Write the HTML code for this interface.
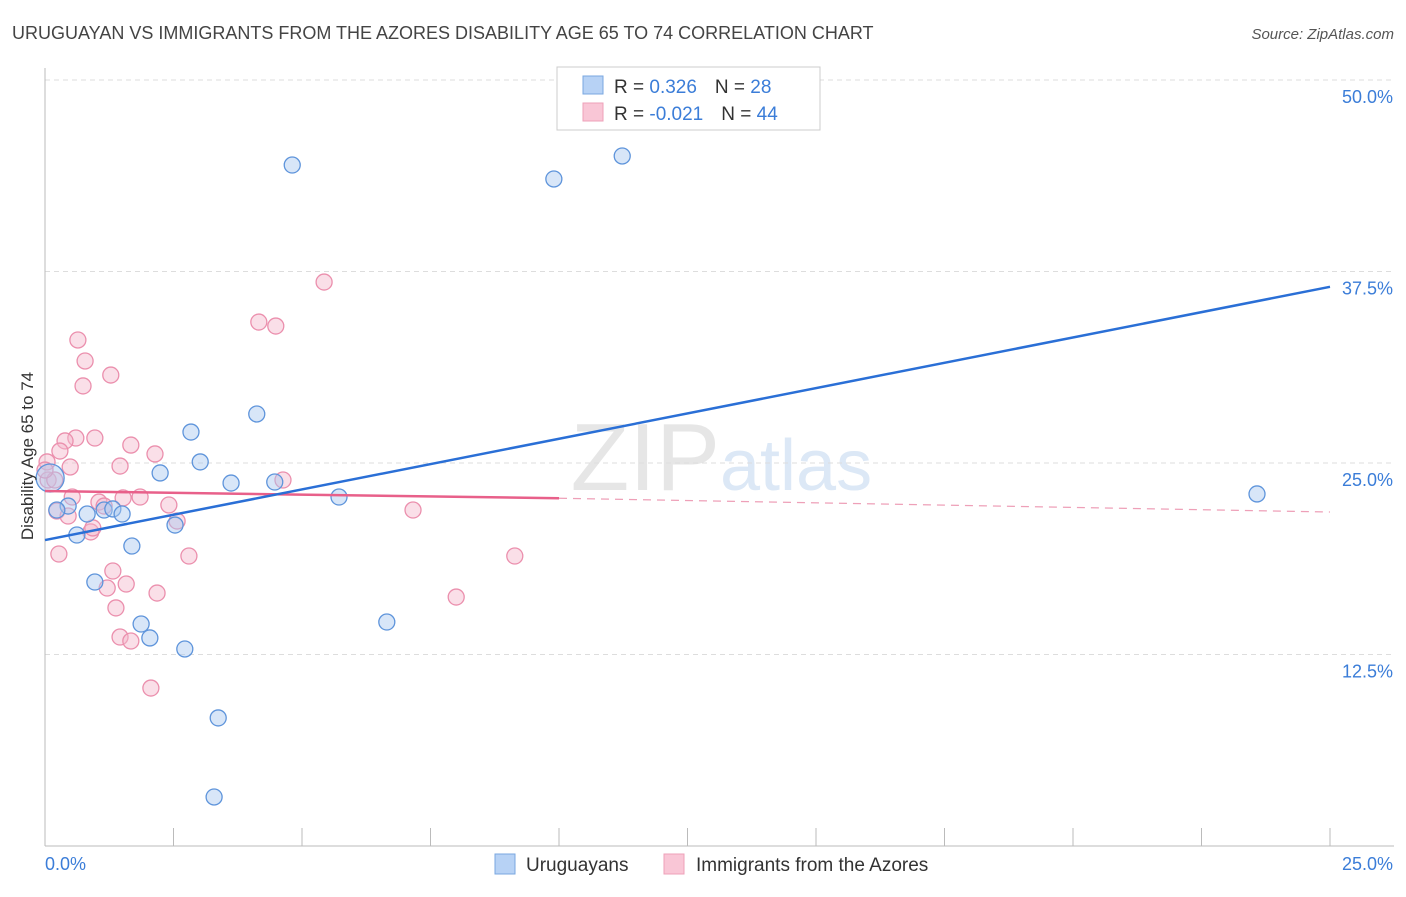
<!DOCTYPE html>
<html><head><meta charset="utf-8"><style>
body{margin:0;background:#fff;font-family:"Liberation Sans",sans-serif;}
svg text{font-family:"Liberation Sans",sans-serif;}
</style></head><body>
<svg id="chart" width="1406" height="892" xmlns="http://www.w3.org/2000/svg">
<text x="12" y="39" font-size="18" fill="#444">URUGUAYAN VS IMMIGRANTS FROM THE AZORES DISABILITY AGE 65 TO 74 CORRELATION CHART</text>
<text x="1394" y="39" font-size="15" fill="#555" text-anchor="end" font-style="italic">Source: ZipAtlas.com</text>
<text x="720" y="490" font-size="96" fill="#e6e6e6" text-anchor="end" font-family="Liberation Serif">ZIP</text>
<text x="720" y="490" font-size="72" fill="#dce8f6">atlas</text>
<g id="grid"></g>
<g id="axes"></g>
<g id="marks"></g>
<text transform="translate(33,456) rotate(-90)" font-size="17" fill="#333" text-anchor="middle">Disability Age 65 to 74</text>
<g>
<rect x="557" y="67" width="263" height="63" fill="#fff" stroke="#ccc"/>
<rect x="583" y="76" width="20" height="18" fill="#b7d2f5" stroke="#7aa7e0"/>
<text x="614" y="93" font-size="19" fill="#333">R = <tspan fill="#3b7dd8"> 0.326</tspan><tspan dx="18">N = </tspan><tspan fill="#3b7dd8">28</tspan></text>
<rect x="583" y="103" width="20" height="18" fill="#f9c6d6" stroke="#eea0b8"/>
<text x="614" y="120" font-size="19" fill="#333">R = <tspan fill="#3b7dd8">-0.021</tspan><tspan dx="18">N = </tspan><tspan fill="#3b7dd8">44</tspan></text>
</g>
<g>
<rect x="495" y="854" width="20" height="20" fill="#b7d2f5" stroke="#7aa7e0"/>
<text x="526" y="871" font-size="19" fill="#333">Uruguayans</text>
<rect x="664" y="854" width="20" height="20" fill="#f9c6d6" stroke="#eea0b8"/>
<text x="696" y="871" font-size="19" fill="#333">Immigrants from the Azores</text>
</g>
</svg>
<script>
const blueX=[4.81,9.90,11.23,4.12,2.84,2.24,3.02,3.62,4.47,5.72,0.45,0.82,1.15,1.32,1.50,2.53,0.62,1.69,0.97,1.87,2.04,2.72,6.65,3.37,3.29,23.58,0.23];
const blueY=[44.45,43.54,45.04,28.20,27.02,24.35,25.07,23.69,23.76,22.78,22.19,21.67,21.93,22.00,21.67,20.95,20.30,19.58,17.23,14.49,13.58,12.86,14.62,8.36,3.20,22.98,21.93];
const pinkX=[5.43,4.16,4.49,0.64,0.78,1.28,0.74,0.97,0.60,0.39,0.29,1.67,2.14,1.46,0.49,0.04,0.06,0.19,4.63,0.53,1.05,1.52,1.85,2.41,1.15,0.23,0.45,2.57,0.89,0.93,7.16,0.27,2.80,9.14,1.32,1.58,1.21,2.18,8.00,1.38,1.46,1.67,2.06,0.00];
const pinkY=[36.81,34.20,33.94,33.03,31.66,30.74,30.03,26.63,26.63,26.44,25.78,26.17,25.59,24.80,24.74,25.07,23.89,23.89,23.89,22.78,22.45,22.72,22.78,22.26,22.19,21.87,21.54,21.21,20.50,20.76,21.93,19.06,18.93,18.93,17.95,17.10,16.84,16.51,16.25,15.54,13.64,13.38,10.31,24.54];
const bigX=[0.10], bigY=[24.02];
const blueLine=[[0,19.97],[25,36.5]];
const pinkLine=[[0,23.17],[10,22.7],[25,21.8]];
const yTicks=[12.5,25,37.5,50];
const yTickLabels=["12.5%","25.0%","37.5%","50.0%"];
const xTickVals=[0,2.5,5,7.5,10,12.5,15,17.5,20,22.5,25];
const NS="http://www.w3.org/2000/svg";
const sx=v=>45+v*51.4, sy=v=>846-v*15.32;
function mk(t,a,p){const e=document.createElementNS(NS,t);for(const k in a)e.setAttribute(k,a[k]);p.appendChild(e);return e;}
const grid=document.getElementById('grid'),axes=document.getElementById('axes'),marks=document.getElementById('marks');
yTicks.forEach((v,i)=>{
 const l=mk('line',{x1:45,x2:1394,y1:sy(v),y2:sy(v),stroke:'#ddd','stroke-dasharray':'5,4'},grid);
 
 
 const t=mk('text',{x:1393,y:sy(v)+23,'font-size':18,fill:'#3b7dd8','text-anchor':'end'},axes);
 t.textContent=yTickLabels[i];
 
 
});
mk('line',{x1:45,x2:45,y1:68,y2:846,stroke:'#bbb'},axes);
mk('line',{x1:45,x2:1394,y1:846,y2:846,stroke:'#bbb'},axes);
xTickVals.forEach(v=>{const l=mk('line',{x1:sx(v),x2:sx(v),y1:828,y2:846,stroke:'#bbb'},axes);
 
 });
let t=mk('text',{x:45,y:870,'font-size':18,fill:'#3b7dd8'},axes);t.textContent='0.0%';


t=mk('text',{x:1393,y:870,'font-size':18,fill:'#3b7dd8','text-anchor':'end'},axes);t.textContent='25.0%';


function dots(X,Y,fill,stroke,name,r){X.forEach((x,i)=>{const c=mk('circle',{cx:sx(x),cy:sy(Y[i]),r:r,fill:fill,'fill-opacity':0.45,stroke:stroke,'stroke-width':1.3},marks);
 
 });}
dots(pinkX,pinkY,'#f5b8cc','#eb8fad','pink-point',8);
dots(blueX,blueY,'#a9c8f0','#5e94db','blue-point',8);
dots(bigX,bigY,'#a9c8f0','#5e94db','blue-point-large',14);
let ln=mk('line',{x1:sx(pinkLine[0][0]),y1:sy(pinkLine[0][1]),x2:sx(pinkLine[1][0]),y2:sy(pinkLine[1][1]),stroke:'#e8608a','stroke-width':2.5},marks);


ln=mk('line',{x1:sx(pinkLine[1][0]),y1:sy(pinkLine[1][1]),x2:sx(pinkLine[2][0]),y2:sy(pinkLine[2][1]),stroke:'#eea0b8','stroke-width':1.3,'stroke-dasharray':'8,6'},marks);


ln=mk('line',{x1:sx(blueLine[0][0]),y1:sy(blueLine[0][1]),x2:sx(blueLine[1][0]),y2:sy(blueLine[1][1]),stroke:'#2a6fd6','stroke-width':2.5},marks);


</script>
</body></html>
